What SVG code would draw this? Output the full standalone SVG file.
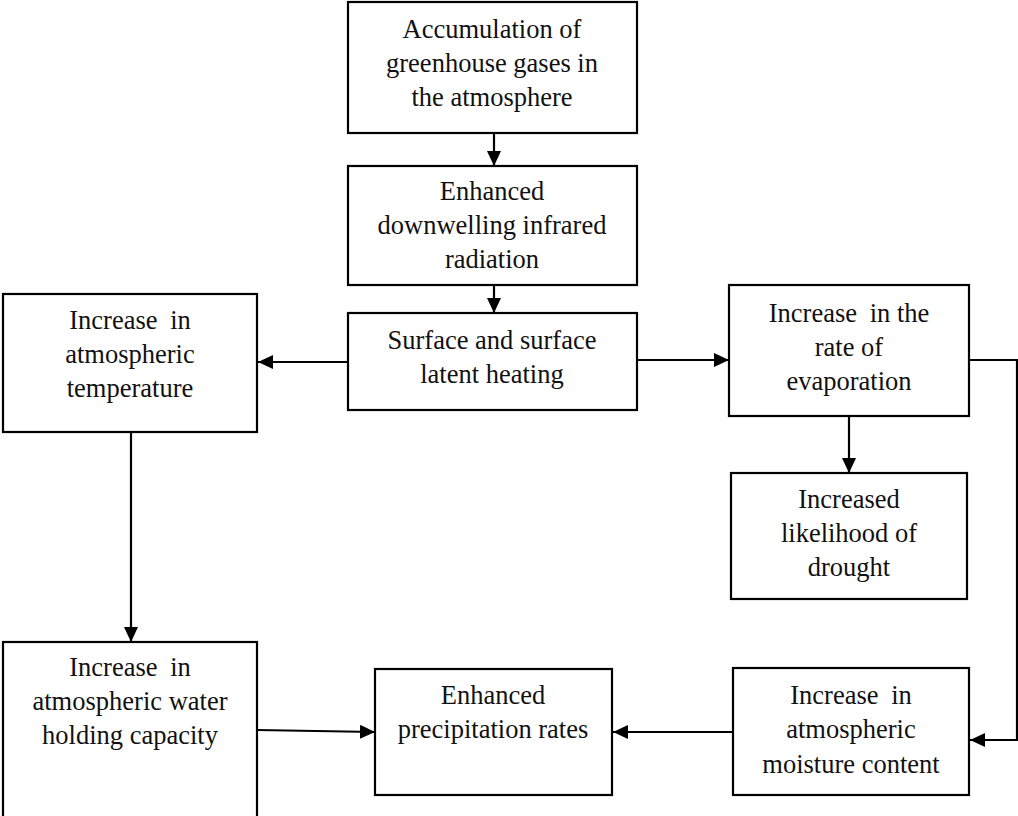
<svg xmlns="http://www.w3.org/2000/svg" width="1018" height="816" viewBox="0 0 1018 816">
<style>
.box{fill:#fff;stroke:#000;stroke-width:2.2}
.t{font-family:"Liberation Serif","Times New Roman",serif;font-size:26.5px;fill:#111;text-anchor:middle}
.w{word-spacing:6px}
.c{fill:none;stroke:#000;stroke-width:2.2}
</style>
<defs>
<marker id="ah" markerUnits="userSpaceOnUse" markerWidth="16" markerHeight="14" refX="15" refY="7" orient="auto">
<path d="M0,0 L15,7 L0,14 Z" fill="#000"/>
</marker>
</defs>
<rect width="1018" height="816" fill="#fff"/>
<g id="connectors">
<line class="c" x1="494" y1="133" x2="494" y2="166" marker-end="url(#ah)"/>
<line class="c" x1="494" y1="285" x2="494" y2="313" marker-end="url(#ah)"/>
<line class="c" x1="348" y1="362" x2="258" y2="362" marker-end="url(#ah)"/>
<line class="c" x1="637" y1="360" x2="729" y2="360" marker-end="url(#ah)"/>
<line class="c" x1="849" y1="416" x2="849" y2="473" marker-end="url(#ah)"/>
<polyline class="c" points="969,360 1017,360 1017,740 970,740" marker-end="url(#ah)"/>
<line class="c" x1="131" y1="432" x2="131" y2="642" marker-end="url(#ah)"/>
<line class="c" x1="257" y1="730" x2="375" y2="732" marker-end="url(#ah)"/>
<line class="c" x1="733" y1="732" x2="613" y2="732" marker-end="url(#ah)"/>
</g>
<g id="n1">
<rect class="box" x="348" y="2" width="289" height="131"/>
<text class="t" x="492" y="38">Accumulation of</text>
<text class="t" x="492" y="72">greenhouse gases in</text>
<text class="t" x="492" y="106">the atmosphere</text>
</g>
<g id="n2">
<rect class="box" x="348" y="166" width="289" height="119"/>
<text class="t" x="492" y="200">Enhanced</text>
<text class="t" x="492" y="234">downwelling infrared</text>
<text class="t" x="492" y="268">radiation</text>
</g>
<g id="n3">
<rect class="box" x="348" y="313" width="289" height="97"/>
<text class="t" x="492" y="349">Surface and surface</text>
<text class="t" x="492" y="383">latent heating</text>
</g>
<g id="n4">
<rect class="box" x="3" y="294" width="254" height="138"/>
<text class="t w" x="130" y="329">Increase in</text>
<text class="t" x="130" y="363">atmospheric</text>
<text class="t" x="130" y="397">temperature</text>
</g>
<g id="n5">
<rect class="box" x="729" y="285" width="240" height="131"/>
<text class="t" x="849" y="322"><tspan class="w">Increase in</tspan> the</text>
<text class="t" x="849" y="356">rate of</text>
<text class="t" x="849" y="390">evaporation</text>
</g>
<g id="n6">
<rect class="box" x="731" y="473" width="236" height="126"/>
<text class="t" x="849" y="508">Increased</text>
<text class="t" x="849" y="542">likelihood of</text>
<text class="t" x="849" y="576">drought</text>
</g>
<g id="n7">
<rect class="box" x="3" y="642" width="254" height="180"/>
<text class="t w" x="130" y="676">Increase in</text>
<text class="t" x="130" y="710">atmospheric water</text>
<text class="t" x="130" y="744">holding capacity</text>
</g>
<g id="n8">
<rect class="box" x="375" y="669" width="237" height="126"/>
<text class="t" x="493" y="704">Enhanced</text>
<text class="t" x="493" y="738">precipitation rates</text>
</g>
<g id="n9">
<rect class="box" x="733" y="668" width="236" height="127"/>
<text class="t w" x="851" y="704">Increase in</text>
<text class="t" x="851" y="738">atmospheric</text>
<text class="t" x="851" y="773">moisture content</text>
</g>
</svg>
